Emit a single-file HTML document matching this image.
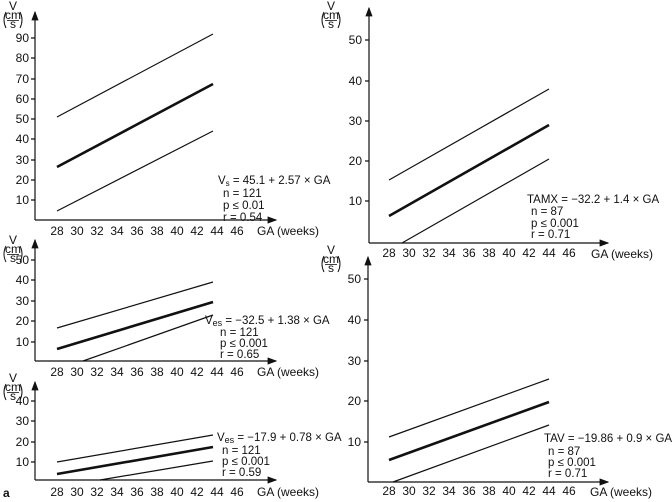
<!DOCTYPE html>
<html><head><meta charset="utf-8"><style>
html,body{margin:0;padding:0;background:#fff}
svg{display:block}
text{font-family:"Liberation Sans",Arial,sans-serif;font-size:12px;fill:#111}
.t{font-size:11.5px}
.yl{text-anchor:end}
.m{text-anchor:middle}
</style></head><body>
<svg width="672" height="502" viewBox="0 0 672 502" xmlns="http://www.w3.org/2000/svg">
<defs><marker id="ar" markerWidth="8" markerHeight="6" refX="7" refY="3" orient="auto"><path d="M0,0 L8,3 L0,6 Z" fill="#111"/></marker>
<g id="u"><text class="m" x="12" y="10" font-size="11.5">V</text><path d="M5,12 Q1,20 5,28 M19,12 Q23,20 19,28" stroke="#111" fill="none" stroke-width="1"/><text class="m" x="12" y="19" font-size="8">cm</text><line x1="6" y1="20.5" x2="18" y2="20.5" stroke="#111" stroke-width="0.8"/><text class="m" x="12" y="28" font-size="8">s</text></g>
<g id="xt"><text class="m" x="57" y="0">28</text><text class="m" x="77" y="0">30</text><text class="m" x="97" y="0">32</text><text class="m" x="117" y="0">34</text><text class="m" x="137" y="0">36</text><text class="m" x="157" y="0">38</text><text class="m" x="177" y="0">40</text><text class="m" x="197" y="0">42</text><text class="m" x="217" y="0">44</text><text class="m" x="237" y="0">46</text></g>
</defs>
<g stroke="#111" fill="none" stroke-width="1.2">
<path d="M35,220 V12" marker-end="url(#ar)"/><path d="M35,220 H276" marker-end="url(#ar)"/>
<path d="M31,38H35M31,58H35M31,79H35M31,99H35M31,119H35M31,139H35M31,160H35M31,180H35M31,200H35"/>
<path d="M57,117L213,34M57,211L213,131"/><path d="M57,167L213,84" stroke-width="2.6"/>
<path d="M35,361 V240" marker-end="url(#ar)"/><path d="M35,361 H276" marker-end="url(#ar)"/>
<path d="M31,260H35M31,280H35M31,301H35M31,321H35M31,342H35"/>
<path d="M57,328L213,282M83,361L213,315"/><path d="M57,349L213,302" stroke-width="2.6"/>
<path d="M35,480 V382" marker-end="url(#ar)"/><path d="M35,480 H276" marker-end="url(#ar)"/>
<path d="M31,401H35M31,421H35M31,442H35M31,462H35"/>
<path d="M57,462L213,435M100,480L213,461"/><path d="M57,474L213,447" stroke-width="2.6"/>
<path d="M369,243 V8" marker-end="url(#ar)"/><path d="M369,243 H608" marker-end="url(#ar)"/>
<path d="M365,40H369M365,81H369M365,121H369M365,161H369M365,201H369"/>
<path d="M389,180L549,89M402,243L549,159"/><path d="M389,216L549,125" stroke-width="2.6"/>
<path d="M368,482 V257" marker-end="url(#ar)"/><path d="M368,482 H608" marker-end="url(#ar)"/>
<path d="M364,279H368M364,320H368M364,361H368M364,401H368M364,442H368"/>
<path d="M389,437L549,379M393,482L549,425"/><path d="M389,460L549,402" stroke-width="2.6"/>
</g>
<use href="#u" x="1" y="0"/>
<use href="#u" x="1" y="234"/>
<use href="#u" x="1" y="372"/>
<use href="#u" x="319" y="0"/>
<use href="#u" x="319" y="244"/>
<g>
<text class="yl" x="29" y="42">90</text><text class="yl" x="29" y="62">80</text><text class="yl" x="29" y="83">70</text><text class="yl" x="29" y="103">60</text><text class="yl" x="29" y="123">50</text><text class="yl" x="29" y="143">40</text><text class="yl" x="29" y="164">30</text><text class="yl" x="29" y="184">20</text><text class="yl" x="29" y="204">10</text>
<text class="yl" x="29" y="264">50</text><text class="yl" x="29" y="284">40</text><text class="yl" x="29" y="305">30</text><text class="yl" x="29" y="325">20</text><text class="yl" x="29" y="346">10</text>
<text class="yl" x="29" y="405">40</text><text class="yl" x="29" y="425">30</text><text class="yl" x="29" y="446">20</text><text class="yl" x="29" y="466">10</text>
<text class="yl" x="362" y="44">50</text><text class="yl" x="362" y="85">40</text><text class="yl" x="362" y="125">30</text><text class="yl" x="362" y="165">20</text><text class="yl" x="362" y="205">10</text>
<text class="yl" x="361" y="283">50</text><text class="yl" x="361" y="324">40</text><text class="yl" x="361" y="365">30</text><text class="yl" x="361" y="405">20</text><text class="yl" x="361" y="446">10</text>
</g>
<use href="#xt" x="0" y="235"/><text x="257" y="235">GA (weeks)</text>
<use href="#xt" x="0" y="376"/><text x="257" y="376">GA (weeks)</text>
<use href="#xt" x="0" y="496"/><text x="257" y="496">GA (weeks)</text>
<use href="#xt" x="332" y="257"/><text x="591" y="258">GA (weeks)</text>
<use href="#xt" x="332" y="495"/><text x="590" y="496">GA (weeks)</text>
<text x="3" y="497" font-weight="bold">a</text>
<g>
<text class="t" x="218" y="184">V<tspan font-size="8" dy="2">s</tspan><tspan dy="-2"> = 45.1 + 2.57 × GA</tspan></text>
<text class="t" x="223" y="197">n = 121</text><text class="t" x="223" y="209">p ≤ 0.01</text><text class="t" x="223" y="221">r = 0.54</text>
<text class="t" x="205" y="324">V<tspan font-size="9" dy="2">es</tspan><tspan dy="-2"> = −32.5 + 1.38 × GA</tspan></text>
<text class="t" x="220" y="336">n = 121</text><text class="t" x="220" y="347">p ≤ 0.001</text><text class="t" x="220" y="358">r = 0.65</text>
<text class="t" x="217" y="441">V<tspan font-size="9" dy="2">es</tspan><tspan dy="-2"> = −17.9 + 0.78 × GA</tspan></text>
<text class="t" x="222" y="454">n = 121</text><text class="t" x="222" y="465">p ≤ 0.001</text><text class="t" x="222" y="476">r = 0.59</text>
<text class="t" x="527" y="203">TAMX = −32.2 + 1.4 × GA</text>
<text class="t" x="531" y="215">n = 87</text><text class="t" x="531" y="227">p ≤ 0.001</text><text class="t" x="531" y="238">r = 0.71</text>
<text class="t" x="544" y="442">TAV = −19.86 + 0.9 × GA</text>
<text class="t" x="548" y="455">n = 87</text><text class="t" x="548" y="466">p ≤ 0.001</text><text class="t" x="548" y="477">r = 0.71</text>
</g>
</svg>
</body></html>
